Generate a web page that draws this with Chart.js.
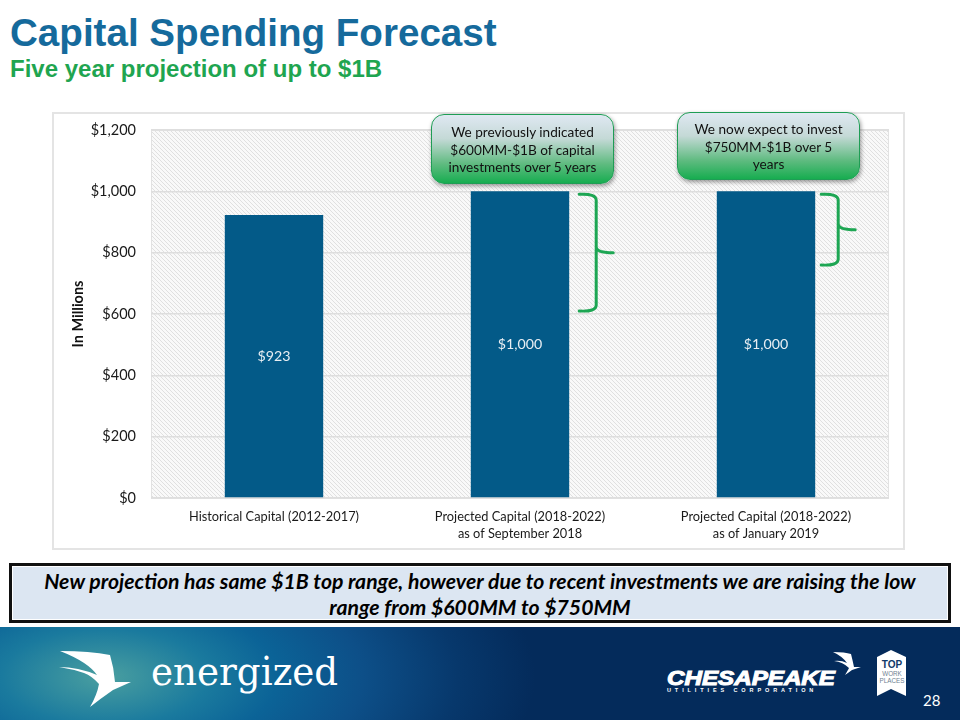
<!DOCTYPE html>
<html><head><meta charset="utf-8">
<script src="https://cdn.jsdelivr.net/npm/chart.js@4"></script>
<style>
html,body{margin:0;padding:0;background:#fff;overflow:hidden}
body{width:960px;height:720px;position:relative;font-family:Lato,sans-serif}
.abs{position:absolute;box-sizing:border-box}
#title{left:10px;top:11px;font:bold 38.6px/44px "Liberation Sans",Arial,sans-serif;color:#156a9c;white-space:nowrap}
#sub{left:10px;top:55px;font:bold 24px/28px "Liberation Sans",Arial,sans-serif;color:#1fa550;white-space:nowrap}
#frame{left:52px;top:112px;width:853px;height:438px;border:2px solid #e4e4e4;background:#fff}
canvas{position:absolute;left:0;top:0}
.call{border:1.5px solid #1f9d55;border-radius:13px;background:linear-gradient(#dfe8f2 0%,#c4d9d6 35%,#5fbb80 72%,#17ad50 100%);box-shadow:1px 2px 4px rgba(0,0,0,.4);text-align:center;color:#111;font-size:13.6px;line-height:17.7px}
#c1{left:431px;top:114px;width:183px;height:70px;padding-top:9px}
#c2{left:677px;top:112px;width:183px;height:68px;padding-top:8px}
#note{left:9px;top:563px;width:942px;height:60px;border:3px solid #111;background:#dce6f2;text-align:center;font:italic 700 21.2px/26px Lato,sans-serif;color:#000;padding:2px 0 0;box-shadow:inset 0 0 0 1px #fff;white-space:nowrap}
#foot{left:0;top:627px;width:960px;height:93px;background:radial-gradient(ellipse 430px 200px at 105px 50px,#4a9fa0 0%,#1a7a9e 24%,#0b6397 40%,#0d4f88 60%,#07386c 82%,#042b5b 100%),#042b5b;overflow:hidden}
#foot svg{position:absolute;left:0;top:0}
#eng{left:151px;top:17px;font:400 39px/56px "DejaVu Serif",serif;color:#fff;white-space:nowrap;transform:scaleX(.955);transform-origin:left}
#ches{left:667px;top:39px;font:italic 900 19.5px/24px "Liberation Sans",Arial,sans-serif;color:#fff;white-space:nowrap;transform:scaleX(1.24);transform-origin:left;-webkit-text-stroke:1px #fff}
#util{left:667px;top:58px;font:bold 5.5px/10px "Liberation Sans",sans-serif;color:#fff;letter-spacing:3.9px;white-space:nowrap}
#top{left:877px;top:33px;width:30px;text-align:center;font:900 10px/10px "Liberation Sans",sans-serif;color:#103a6a}
#work{left:877px;top:44px;width:30px;text-align:center;font:400 6.3px/6.8px "Liberation Sans",sans-serif;color:#6f7f92}
#pg{left:923px;top:64px;font:15px/18px Lato,sans-serif;color:#fff}
</style></head><body>
<div class="abs" id="title">Capital Spending Forecast</div>
<div class="abs" id="sub">Five year projection of up to $1B</div>
<div class="abs" id="frame"></div>
<canvas id="chart" width="960" height="720"></canvas>
<div class="abs call" id="c1">We previously indicated<br>$600MM-$1B of capital<br>investments over 5 years</div>
<div class="abs call" id="c2">We now expect to invest<br>$750MM-$1B over 5<br>years</div>
<div class="abs" id="note">New projection has same $1B top range, however due to recent investments we are raising the low<br>range from $600MM to $750MM</div>
<div class="abs" id="foot">
<svg width="960" height="93" viewBox="0 627 960 93">
<path fill="#fff" d="M60 651 Q90 651 110 655 Q114 668 115 682 L131 682 L113 690 Q100 699 90 707 Q97 695 99 684 Q92 676 84 673 Q72 669 59 667 Q78 667 97 675 Q88 662 60 651Z"/>
<path fill="#fff" d="M833 652 Q845 652 851 654 Q853 662 854 667 L861 667 L852 670 Q848 673 845 675 Q848 670 849 668 Q843 662 834 661 Q841 660 847 663 Q842 656 833 652Z"/>
<path fill="#fff" d="M877 657 L891 650 L906 657 L906 696 L891 689 L877 696Z"/>
</svg>
<div class="abs" id="eng">energized</div>
<div class="abs" id="ches">CHESAPEAKE</div>
<div class="abs" id="util">UTILITIES CORPORATION</div>
<div class="abs" id="top">TOP</div>
<div class="abs" id="work">WORK<br>PLACES</div>
<div class="abs" id="pg">28</div>
</div>
<script>
const categories = [
  "Historical Capital (2012-2017)",
  ["Projected Capital (2018-2022)", "as of September 2018"],
  ["Projected Capital (2018-2022)", "as of January 2019"]
];
const capitalValues = [923, 1000, 1000];
const valueLabels = ["$923", "$1,000", "$1,000"];
const rangeLow = [null, 600, 750];
const rangeHigh = [null, 1000, 1000];
const axisTitle = "In Millions";

function hatch(){
  const p = document.createElement('canvas'); p.width = p.height = 4;
  const g = p.getContext('2d');
  g.fillStyle = '#f9f9f9'; g.fillRect(0,0,4,4);
  g.strokeStyle = '#e0e0e0'; g.lineWidth = 1;
  g.beginPath(); g.moveTo(-1,-1); g.lineTo(5,5); g.moveTo(-1,3); g.lineTo(1,5); g.moveTo(3,-1); g.lineTo(5,1); g.stroke();
  return g.createPattern(p,'repeat');
}
const areaBg = {
  id:'areaBg',
  beforeDraw(c){
    const a=c.chartArea, x=c.ctx;
    x.save(); x.fillStyle=hatch(); x.fillRect(a.left,a.top,a.right-a.left,a.bottom-a.top);
    x.strokeStyle='#e2e2e2'; x.lineWidth=1; x.strokeRect(a.left+.5,a.top+.5,a.right-a.left-1,a.bottom-a.top);
    x.restore();
  }
};
const overlays = {
  id:'overlays',
  afterDatasetsDraw(c){
    const x=c.ctx, ys=c.scales.y, bars=c.getDatasetMeta(0).data;
    x.save();
    x.font='14.2px Lato,sans-serif'; x.textAlign='center'; x.textBaseline='middle';
    bars.forEach((b,i)=>{ x.fillStyle='#e8eef3'; x.fillText(valueLabels[i], b.x, (b.y+b.base)/2); });
    const gaps=[0,10,6];
    bars.forEach((b,i)=>{
      if(rangeLow[i]==null) return;
      const l=b.x+b.width/2+gaps[i], v=l+17, tip=v+17;
      const t=ys.getPixelForValue(rangeHigh[i])+3, e=ys.getPixelForValue(rangeLow[i])-3, m=(t+e)/2;
      x.strokeStyle='#1da653'; x.lineWidth=3; x.lineCap='round'; x.lineJoin='round';
      x.beginPath();
      x.moveTo(l,t); x.quadraticCurveTo(v,t-1,v,t+6);
      x.lineTo(v,m-6); x.quadraticCurveTo(v,m,tip,m);
      x.moveTo(v,m-6); x.quadraticCurveTo(v,m,v,m+6);
      x.lineTo(v,e-6); x.quadraticCurveTo(v,e+1,l,e);
      x.stroke();
    });
    x.restore();
  }
};
new Chart(document.getElementById('chart'),{
  type:'bar',
  data:{labels:categories,datasets:[{data:capitalValues,backgroundColor:'#035a88',barPercentage:.4,categoryPercentage:1}]},
  plugins:[areaBg,overlays],
  options:{
    responsive:false,animation:false,
    layout:{padding:{left:52,top:130,right:71,bottom:172}},
    plugins:{legend:{display:false},tooltip:{enabled:false}},
    scales:{
      y:{min:0,max:1200,
        afterFit(s){s.width=99;},
        ticks:{stepSize:200,padding:15,color:'#1a1a1a',font:{family:'Lato',size:14.5},callback:v=>'$'+v.toLocaleString('en-US')},
        grid:{color:'#dedede',lineWidth:1.4,drawTicks:false},border:{display:false},
        title:{display:true,text:axisTitle,color:'#111',font:{family:'Lato',size:14.5,weight:'bold'},padding:{top:18,bottom:0}}
      },
      x:{
        afterFit(s){s.height=50;},
        ticks:{padding:10,color:'#1a1a1a',maxRotation:0,autoSkip:false,font:{family:'Lato',size:12.8,lineHeight:1.35}},
        grid:{display:false,drawTicks:false},border:{display:false}
      }
    }
  }
});
</script>
</body></html>
